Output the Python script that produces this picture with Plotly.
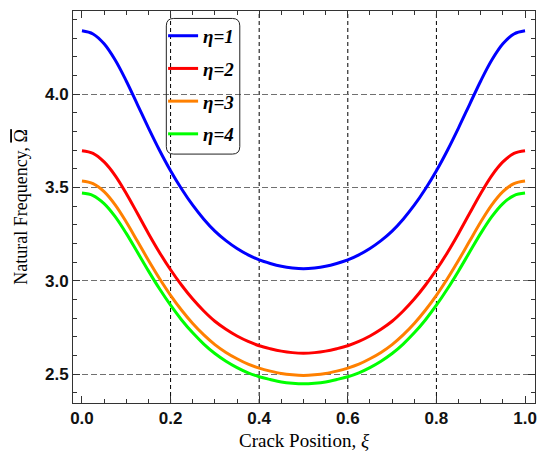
import plotly.graph_objects as go

# ---- data (crack position xi, frequency for each eta) ----
xi = [0.000, 0.025, 0.050, 0.075, 0.100, 0.125, 0.150, 0.175, 0.200, 0.225,
      0.250, 0.275, 0.300, 0.325, 0.350, 0.375, 0.400, 0.425, 0.450, 0.475,
      0.500,
      0.525, 0.550, 0.575, 0.600, 0.625, 0.650, 0.675, 0.700, 0.725, 0.750,
      0.775, 0.800, 0.825, 0.850, 0.875, 0.900, 0.925, 0.950, 0.975, 1.000]
eta1 = [4.340, 4.323, 4.270, 4.183, 4.071, 3.946, 3.820, 3.700, 3.590, 3.492,
        3.405, 3.330, 3.266, 3.215, 3.173, 3.139, 3.112, 3.093, 3.078, 3.069,
        3.065,
        3.069, 3.078, 3.093, 3.112, 3.139, 3.173, 3.215, 3.266, 3.330, 3.405,
        3.492, 3.590, 3.700, 3.820, 3.946, 4.071, 4.183, 4.270, 4.323, 4.340]
eta2 = [3.697, 3.683, 3.637, 3.564, 3.468, 3.362, 3.254, 3.152, 3.059, 2.976,
        2.902, 2.838, 2.783, 2.740, 2.704, 2.675, 2.652, 2.636, 2.623, 2.615,
        2.612,
        2.615, 2.623, 2.636, 2.652, 2.675, 2.704, 2.740, 2.783, 2.838, 2.902,
        2.976, 3.059, 3.152, 3.254, 3.362, 3.468, 3.564, 3.637, 3.683, 3.697]
eta3 = [3.535, 3.521, 3.478, 3.407, 3.315, 3.213, 3.110, 3.012, 2.922, 2.842,
        2.771, 2.710, 2.658, 2.616, 2.582, 2.553, 2.532, 2.516, 2.503, 2.496,
        2.493,
        2.496, 2.503, 2.516, 2.532, 2.553, 2.582, 2.616, 2.658, 2.710, 2.771,
        2.842, 2.922, 3.012, 3.110, 3.213, 3.315, 3.407, 3.478, 3.521, 3.535]
eta4 = [3.470, 3.457, 3.414, 3.344, 3.254, 3.154, 3.053, 2.957, 2.869, 2.790,
        2.721, 2.661, 2.610, 2.569, 2.535, 2.507, 2.486, 2.471, 2.458, 2.451,
        2.448,
        2.451, 2.458, 2.471, 2.486, 2.507, 2.535, 2.569, 2.610, 2.661, 2.721,
        2.790, 2.869, 2.957, 3.053, 3.154, 3.254, 3.344, 3.414, 3.457, 3.470]

series_names = ["η=1", "η=2", "η=3", "η=4"]
series_vals = [eta1, eta2, eta3, eta4]
series_colors = ["#0000FF", "#FF0000", "#FF8000", "#00FF00"]

x_ticks = [0.0, 0.2, 0.4, 0.6, 0.8, 1.0]
x_grid = [0.2, 0.4, 0.6, 0.8]
y_ticks = [2.5, 3.0, 3.5, 4.0]

fig = go.Figure()
for name, vals, col in zip(series_names, series_vals, series_colors):
    fig.add_trace(go.Scatter(
        x=xi, y=vals, mode="lines", name="<b><i>%s</i></b>" % name,
        legendgroup=name,
        line=dict(color=col, width=3, shape="spline", smoothing=1.0),
    ))

axcol = "#333333"
tickfont = dict(family="Liberation Sans", size=17, color="#111111", weight="bold")

fig.update_layout(
    width=542, height=456,
    margin=dict(l=73, r=5, t=11, b=53),
    paper_bgcolor="white", plot_bgcolor="white",
    showlegend=True,
    legend=dict(
        x=0.195, y=0.985, xanchor="left", yanchor="top",
        bgcolor="rgba(0,0,0,0)", borderwidth=0,
        font=dict(family="Liberation Serif", size=19, color="black"),
        tracegroupgap=5, itemwidth=30,
    ),
    xaxis=dict(
        range=[-0.0202, 1.0225],
        tickmode="array", tickvals=x_ticks, ticktext=["%.1f" % v for v in x_ticks],
        ticks="inside", ticklen=7, tickcolor=axcol, tickwidth=1,
        showline=True, linecolor=axcol, linewidth=1, mirror="allticks",
        showgrid=False, zeroline=False,
        minor=dict(dtick=0.05, tick0=0, ticks="inside", ticklen=4,
                   tickcolor=axcol, showgrid=False),
        tickfont=tickfont,
        title=dict(text="Crack Position, <i>ξ</i>", standoff=6,
                   font=dict(family="Liberation Serif", size=19, color="black")),
    ),
    yaxis=dict(
        range=[2.345, 4.446],
        tickmode="array", tickvals=y_ticks, ticktext=["%.1f" % v for v in y_ticks],
        ticks="inside", ticklen=7, tickcolor=axcol, tickwidth=1,
        showline=True, linecolor=axcol, linewidth=1, mirror="allticks",
        showgrid=True, gridcolor="#707070", gridwidth=1, griddash="6px,3px",
        zeroline=False,
        minor=dict(dtick=0.1, tick0=0, ticks="inside", ticklen=4,
                   tickcolor=axcol, showgrid=False),
        tickfont=tickfont,
        title=dict(text='Natural Frequency, <span style="text-decoration:overline">\u03A9</span>',
                   standoff=12,
                   font=dict(family="Liberation Serif", size=18, color="black")),
    ),
)

# vertical dashed grid lines (only at interior ticks)
for v in x_grid:
    fig.add_shape(type="line", xref="x", yref="paper", x0=v, x1=v, y0=0, y1=1,
                  line=dict(color="black", width=1, dash="4px,3px"), layer="below")

# rounded legend frame
x0, x1, y0, y1 = 0.202, 0.361, 0.635, 0.981
rx, ry = 0.016, 0.019
path = (f"M {x0+rx},{y1} L {x1-rx},{y1} Q {x1},{y1} {x1},{y1-ry} "
        f"L {x1},{y0+ry} Q {x1},{y0} {x1-rx},{y0} L {x0+rx},{y0} "
        f"Q {x0},{y0} {x0},{y0+ry} L {x0},{y1-ry} Q {x0},{y1} {x0+rx},{y1} Z")
fig.add_shape(type="path", path=path, xref="paper", yref="paper",
              line=dict(color="#222222", width=1), fillcolor="rgba(0,0,0,0)",
              layer="above")

fig.write_html("out.html")
